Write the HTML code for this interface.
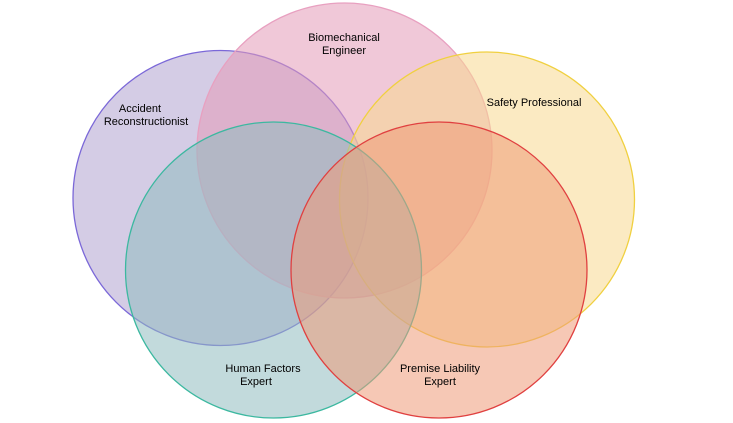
<!DOCTYPE html>
<html><head><style>html,body{margin:0;padding:0;background:#fff;width:733px;height:423px;overflow:hidden}</style></head>
<body>
<svg width="733" height="423" viewBox="0 0 733 423" xmlns="http://www.w3.org/2000/svg" font-family="Liberation Sans, sans-serif" font-size="11" fill="#000">
<circle cx="220.5" cy="198" r="147.5" fill="#b0a3cf" fill-opacity="0.55" stroke="#7b68d8" stroke-width="1.3"/>
<circle cx="344.5" cy="150.5" r="147.5" fill="#e49ab8" fill-opacity="0.55" stroke="#e8a0c0" stroke-width="1.3"/>
<circle cx="487" cy="199.5" r="147.5" fill="#f7d98f" fill-opacity="0.55" stroke="#f0d040" stroke-width="1.3"/>
<circle cx="273.5" cy="270" r="148" fill="#8fbcbf" fill-opacity="0.55" stroke="#3cb8a0" stroke-width="1.3"/>
<circle cx="439" cy="270" r="148" fill="#ee9a78" fill-opacity="0.55" stroke="#e04040" stroke-width="1.3"/>
<text x="344" y="41" text-anchor="middle">Biomechanical</text>
<text x="344" y="54" text-anchor="middle">Engineer</text>
<text x="140" y="112" text-anchor="middle">Accident</text>
<text x="146" y="125" text-anchor="middle">Reconstructionist</text>
<text x="534" y="106" text-anchor="middle">Safety Professional</text>
<text x="263" y="372" text-anchor="middle">Human Factors</text>
<text x="256" y="385" text-anchor="middle">Expert</text>
<text x="440" y="372" text-anchor="middle">Premise Liability</text>
<text x="440" y="385" text-anchor="middle">Expert</text>
</svg>
</body></html>
